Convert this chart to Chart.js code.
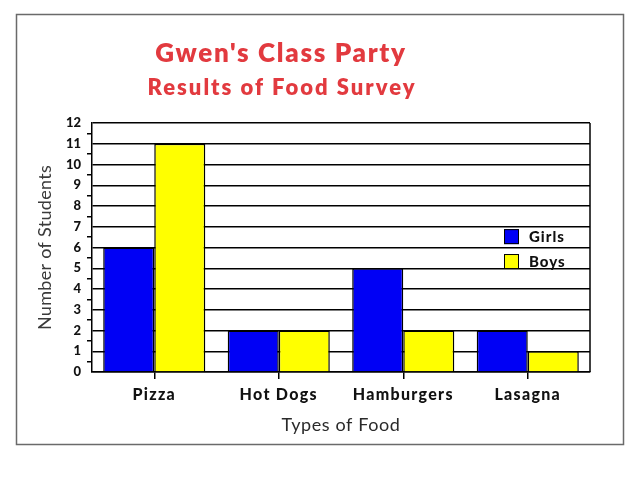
<!DOCTYPE html>
<html>
<head>
<meta charset="utf-8">
<title>Gwen's Class Party</title>
<script src="https://cdn.jsdelivr.net/npm/chart.js@4.4.0/dist/chart.umd.min.js"></script>
<style>
	html, body { margin: 0; padding: 0; background: #ffffff; }
	#myBarChart { display: block; }
</style>
</head>
<body>
<canvas id="myBarChart" width="640" height="480"></canvas>
<script>
// 차트 데이터
var foods = ['Pizza', 'Hot Dogs', 'Hamburgers', 'Lasagna'];
var girls = [6, 2, 5, 2];
var boys = [11, 2, 2, 1];
var seriesNames = ['Girls', 'Boys'];
var titleLines = ["Gwen's Class Party", 'Results of Food Survey'];

var FONT = "Lato, 'DejaVu Sans', sans-serif";

// 글자 간격을 넣어서 그리는 래퍼
function withSpacing(fn, spacing) {
	return function() {
		var ctx = this.ctx;
		var old = ctx.letterSpacing;
		ctx.letterSpacing = spacing;
		fn.apply(this, arguments);
		ctx.letterSpacing = old;
	};
}

// 바깥 테두리 + 제목 + 범례 그리기
var decorPlugin = {
	id: 'decor',
	afterLayout: function(chart) {
		var x = chart.scales.x;
		var y = chart.scales.y;
		if (x._spaced) return;
		x.drawLabels = withSpacing(x.drawLabels, '1.3px');
		x.drawTitle = withSpacing(x.drawTitle, '0.6px');
		y.drawTitle = withSpacing(y.drawTitle, '0.3px');
		x._spaced = true;
	},
	beforeDraw: function(chart) {
		var ctx = chart.ctx;
		ctx.save();
		ctx.fillStyle = '#ffffff';
		ctx.fillRect(0, 0, chart.width, chart.height);
		ctx.strokeStyle = '#6a6a6a';
		ctx.lineWidth = 1.5;
		ctx.strokeRect(16.5, 14.5, 607, 430);
		ctx.restore();
	},
	afterDraw: function(chart) {
		var ctx = chart.ctx;
		var area = chart.chartArea;
		var y = chart.scales.y;
		ctx.save();

		// 오른쪽 테두리
		ctx.strokeStyle = '#000000';
		ctx.lineWidth = 1.5;
		ctx.beginPath();
		ctx.moveTo(area.right, area.top);
		ctx.lineTo(area.right, area.bottom);
		ctx.stroke();

		// 제목
		ctx.fillStyle = '#e23a3f';
		ctx.textAlign = 'center';
		ctx.textBaseline = 'middle';
		ctx.letterSpacing = '1.7px';
		ctx.font = "800 26px " + FONT;
		ctx.fillText(titleLines[0], 281, 54);
		ctx.letterSpacing = '2px';
		ctx.font = "800 22px " + FONT;
		ctx.fillText(titleLines[1], 282, 88);

		// 범례
		var sets = chart.data.datasets;
		var rows = [y.getPixelForValue(6.5), y.getPixelForValue(5.3)];
		ctx.textAlign = 'left';
		ctx.letterSpacing = '1px';
		ctx.font = "900 15px " + FONT;
		for (var i = 0; i < sets.length; i++) {
			ctx.fillStyle = sets[i].backgroundColor;
			ctx.fillRect(504, rows[i] - 8, 15, 15);
			ctx.strokeStyle = '#000000';
			ctx.lineWidth = 1;
			ctx.strokeRect(504.5, rows[i] - 7.5, 14, 14);
			ctx.fillStyle = '#111111';
			ctx.fillText(sets[i].label, 529, rows[i]);
		}
		ctx.restore();
	}
};

var chartData = {
	labels: foods,
	datasets: [{
		label: seriesNames[0],
		data: girls,
		backgroundColor: '#0000f5',
		borderColor: '#000000',
		borderWidth: 1.5
	}, {
		label: seriesNames[1],
		data: boys,
		backgroundColor: '#ffff00',
		borderColor: '#000000',
		borderWidth: 1.5
	}]
};

var chartOptions = {
	responsive: false,
	animation: false,
	devicePixelRatio: 1,
	layout: {
		padding: { top: 123, right: 50, left: 0, bottom: 0 }
	},
	plugins: {
		legend: { display: false },
		title: { display: false },
		tooltip: { enabled: false }
	},
	datasets: {
		bar: { barPercentage: 1, categoryPercentage: 0.82 }
	},
	scales: {
		x: {
			afterFit: function(scale) { scale.height = 108; },
			border: { color: '#000000', width: 1.5 },
			grid: {
				offset: false,
				drawOnChartArea: false,
				tickLength: 7,
				tickColor: '#000000',
				lineWidth: 1.5
			},
			ticks: {
				color: '#111111',
				padding: 6,
				font: { family: FONT, size: 16, weight: '900' }
			},
			title: {
				display: true,
				text: 'Types of Food',
				color: '#2a2a2a',
				font: { family: FONT, size: 18 },
				padding: { top: 44, bottom: 44 }
			}
		},
		y: {
			min: 0,
			max: 12,
			afterFit: function(scale) { scale.width = 92; },
			border: { color: '#000000', width: 1.5 },
			grid: {
				// 정수 눈금은 격자선, 0.5 눈금은 짧은 틱
				color: function(c) {
					return c.tick && Number.isInteger(c.tick.value) ? '#000000' : 'rgba(0,0,0,0)';
				},
				tickColor: function(c) {
					return c.tick && Number.isInteger(c.tick.value) ? 'rgba(0,0,0,0)' : '#000000';
				},
				lineWidth: 1.5,
				tickLength: 5
			},
			ticks: {
				stepSize: 0.5,
				autoSkip: false,
				padding: 6,
				color: '#111111',
				font: { family: FONT, size: 13, weight: '900' },
				callback: function(value) {
					return Number.isInteger(value) ? value : '';
				}
			},
			title: {
				display: true,
				text: 'Number of Students',
				color: '#3a3a3a',
				font: { family: FONT, size: 18 },
				padding: { top: 34, bottom: 34 }
			}
		}
	}
};

var ctx = document.getElementById('myBarChart').getContext('2d');
window.myBarChart = new Chart(ctx, {
	type: 'bar',
	data: chartData,
	options: chartOptions,
	plugins: [decorPlugin]
});
</script>
</body>
</html>
